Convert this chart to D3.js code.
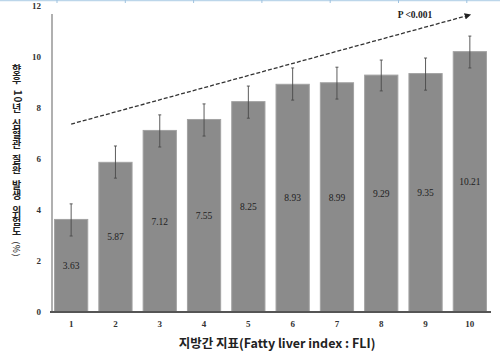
<!DOCTYPE html>
<html><head><meta charset="utf-8">
<script src="https://cdn.jsdelivr.net/npm/d3@7"></script>
<style>
html,body{margin:0;padding:0;background:#fff;}
svg{display:block;}
</style></head>
<body>
<svg id="chart" width="500" height="356"></svg>
<script>
const categories = ["1","2","3","4","5","6","7","8","9","10"];
const values = [3.63, 5.87, 7.12, 7.55, 8.25, 8.93, 8.99, 9.29, 9.35, 10.21];
const errLow = [2.98, 5.25, 6.47, 6.90, 7.60, 8.31, 8.35, 8.67, 8.70, 9.57];
const errHigh = [4.24, 6.51, 7.73, 8.16, 8.86, 9.57, 9.60, 9.88, 9.96, 10.82];
const yTicks = [0, 2, 4, 6, 8, 10, 12];
const trend = [{cat: "1", v: 7.37}, {cat: "10", v: 11.65}];
const trendLabel = "P <0.001";
const yTitleMain = "향후 10년 심혈관 질환 발생 위험도";
const yTitleUnit = " (%)";
const xTitle = "지방간 지표(Fatty liver index : FLI)";

const svg = d3.select("#chart");
const x = d3.scaleBand().domain(categories).range([49, 492]).paddingInner(0.25).paddingOuter(0.125);
const y = d3.scaleLinear().domain([0, 12]).range([312, 6]);

// top decorative border
svg.append("line").attr("x1", 0).attr("x2", 500).attr("y1", 0.5).attr("y2", 0.5)
  .attr("stroke", "#bcd6ea").attr("stroke-width", 1.5);
d3.range(57, 500, 68.3).forEach(px => {
  svg.append("line").attr("x1", px).attr("x2", px).attr("y1", 0).attr("y2", 3)
    .attr("stroke", "#9fc3e0").attr("stroke-width", 1);
});

// y axis line
svg.append("line").attr("x1", 52).attr("x2", 52).attr("y1", 14).attr("y2", y(0))
  .attr("stroke", "#b0b0b0").attr("stroke-width", 2);

// y tick labels
svg.append("g").selectAll("text").data(yTicks).join("text")
  .attr("x", 41).attr("y", d => y(d)).attr("dy", "0.35em")
  .attr("text-anchor", "end")
  .attr("font-family", "Liberation Serif, serif").attr("font-weight", "bold")
  .attr("font-size", 9).attr("fill", "#333").text(d => d);

// bars
svg.append("g").selectAll("rect").data(values).join("rect")
  .attr("x", (d, i) => x(categories[i]))
  .attr("width", x.bandwidth())
  .attr("y", d => y(d))
  .attr("height", d => y(0) - y(d))
  .attr("fill", "#8b8b8b")
  .attr("stroke", "#a2a2a2").attr("stroke-width", 1);

// error bars
const eg = svg.append("g").attr("stroke", "#4a4a4a").attr("stroke-width", 0.9);
categories.forEach((c, i) => {
  const cx = x(c) + x.bandwidth() / 2;
  eg.append("line").attr("x1", cx).attr("x2", cx).attr("y1", y(errHigh[i])).attr("y2", y(errLow[i]));
  eg.append("line").attr("x1", cx - 1.5).attr("x2", cx + 1.5).attr("y1", y(errHigh[i])).attr("y2", y(errHigh[i]));
  eg.append("line").attr("x1", cx - 1.5).attr("x2", cx + 1.5).attr("y1", y(errLow[i])).attr("y2", y(errLow[i]));
});

// value labels
svg.append("g").selectAll("text").data(values).join("text")
  .attr("x", (d, i) => x(categories[i]) + x.bandwidth() / 2)
  .attr("y", d => y(d / 2)).attr("dy", "0.35em")
  .attr("text-anchor", "middle")
  .attr("font-family", "Liberation Serif, serif")
  .attr("font-size", 9.5).attr("fill", "#222").text(d => d.toFixed(2));

// x axis line
svg.append("line").attr("x1", 50).attr("x2", 491).attr("y1", y(0)).attr("y2", y(0))
  .attr("stroke", "#555").attr("stroke-width", 2);

// x tick labels
svg.append("g").selectAll("text").data(categories).join("text")
  .attr("x", d => x(d) + x.bandwidth() / 2).attr("y", 327)
  .attr("text-anchor", "middle")
  .attr("font-family", "Liberation Serif, serif").attr("font-weight", "bold")
  .attr("font-size", 9).attr("fill", "#333").text(d => d);

// trend arrow
const defs = svg.append("defs");
defs.append("marker").attr("id", "arr").attr("viewBox", "0 0 10 10")
  .attr("refX", 8).attr("refY", 5).attr("markerWidth", 5).attr("markerHeight", 5)
  .attr("orient", "auto")
  .append("path").attr("d", "M0,0 L10,5 L0,10 z").attr("fill", "#222");
const tx = d => x(d.cat) + x.bandwidth() / 2;
svg.append("line")
  .attr("x1", tx(trend[0])).attr("y1", y(trend[0].v))
  .attr("x2", tx(trend[1])).attr("y2", y(trend[1].v))
  .attr("stroke", "#333").attr("stroke-width", 1.3)
  .attr("stroke-dasharray", "4,2")
  .attr("marker-end", "url(#arr)");
svg.append("text").attr("x", 415).attr("y", 18).attr("text-anchor", "middle")
  .attr("font-family", "Liberation Serif, serif").attr("font-weight", "bold")
  .attr("font-size", 9.5).attr("fill", "#222").text(trendLabel);

// y title: one rotated text; Hangul glyphs turned back upright with per-glyph rotate
const FONT = "Noto Sans CJK KR, sans-serif";
const hFs = 10;
const isHangul = ch => /[\uAC00-\uD7A3]/.test(ch);
const chars = [...(yTitleMain + yTitleUnit)];
const shift = 0.88 * hFs;
const extraSpace = 3;
const rot = [], dx = [], dy = [];
let prevH = false, curDy = 0;
chars.forEach(ch => {
  const h = isHangul(ch);
  let d = 0;
  if (h && !prevH) d += shift;
  if (!h && prevH) d -= shift;
  if (ch === " ") d += extraSpace;
  rot.push(h ? -90 : 0);
  dx.push(d.toFixed(2));
  const target = h ? 0 : (/[()%]/.test(ch) ? 1.2 : 1.5);
  dy.push((-(target - curDy)).toFixed(2));
  curDy = target;
  prevH = h;
});
const title = svg.append("text")
  .attr("transform", `translate(${17 - hFs / 2},64) rotate(90)`)
  .attr("font-family", FONT).attr("font-weight", "bold").attr("font-size", hFs)
  .attr("letter-spacing", 0.7)
  .attr("fill", "#222")
  .attr("rotate", rot.join(" "))
  .attr("dx", dx.join(" "))
  .attr("dy", dy.join(" "));
title.append("tspan").text(yTitleMain);
title.append("tspan").attr("font-size", 8.5).attr("font-weight", "normal").text(yTitleUnit);

// x title
svg.append("text").attr("x", 277).attr("y", 348).attr("text-anchor", "middle")
  .attr("font-family", FONT).attr("font-weight", "bold")
  .attr("font-size", 12.5).attr("fill", "#222").text(xTitle);
</script>
</body></html>
